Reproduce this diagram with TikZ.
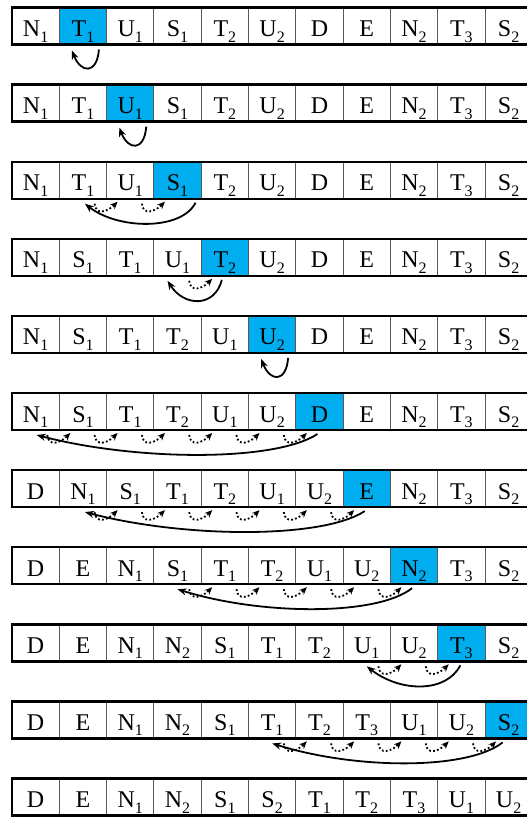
\documentclass[tikz,border=0pt]{standalone}
\usepackage{fontspec}
\setmainfont{Liberation Serif}
\usetikzlibrary{arrows.meta}
\definecolor{hl}{RGB}{0,174,239}
\newcommand\mysub[1]{\raisebox{-5.5pt}{\fontsize{16}{16}\selectfont #1}}
\newcommand\arrayrow[3]{%
  \pgfmathsetmacro\topy{-(7.5+77.1*#1)}
  \foreach \lab [count=\c from 0] in {#2} {
    \pgfmathsetmacro\cx{12+47.3*(\c+0.5)}
    \ifnum\c=#3\relax\def\fillc{hl}\else\def\fillc{white}\fi
    \node[cell, fill=\fillc] (r#1c\c) at (\cx, \topy-18.5) {\lab};
  }
  \draw[frame] (r#1c0.south west) -- (r#1c0.north west) -- (r#1c10.north east);
  \draw[frame] (r#1c0.south west) -- (r#1c10.south east);
}
\newcommand\staymove[2]{%
  \draw[solidarr] ([xshift=16pt,yshift=-5pt]r#1c#2.south) .. controls +(-2,-25) and +(9,-23) .. ([xshift=-11pt,yshift=-6pt]r#1c#2.south);
}
\newcommand\shiftmove[5]{% row, src, tgt, start offset, tip offset
  \pgfmathsetmacro\L{(#2-#3)*47.3}
  \pgfmathtruncatemacro\kend{#2-1}
  \foreach \k in {#3,...,\kend} {
    \draw[dotarr] ([xshift=-12pt,yshift=-5pt]r#1c\k.south east) .. controls +(1,-12) and +(-10,-10) .. ([xshift=11pt,yshift=-3pt]r#1c\k.south east);
  }
  \draw[solidarr] ([xshift=#4pt,yshift=-4pt]r#1c#2.south) .. controls +({-0.15*\L},-28) and +({0.35*\L},-26) .. ([xshift=#5pt,yshift=-5pt]r#1c#3.south);
}
\begin{document}
\begin{tikzpicture}[x=1pt,y=1pt,
  cell/.style={draw=black!65, line width=0.9pt, minimum width=47.3pt, minimum height=37pt,
    inner sep=0pt, outer sep=0pt, text height=29pt, text depth=8pt,
    font=\fontsize{24}{24}\selectfont},
  frame/.style={line width=2.4pt, line cap=rect},
  solidarr/.style={line width=1.8pt, -{Stealth[length=9pt,width=7pt]}},
  dotarr/.style={line width=1.8pt, dash pattern=on 1.8pt off 2.2pt, -{Stealth[length=7.5pt,width=6.5pt]}}]
\useasboundingbox (0,0) rectangle (527,-817);
\arrayrow{0}{N\mysub1,T\mysub1,U\mysub1,S\mysub1,T\mysub2,U\mysub2,D,E,N\mysub2,T\mysub3,S\mysub2}{1}
\arrayrow{1}{N\mysub1,T\mysub1,U\mysub1,S\mysub1,T\mysub2,U\mysub2,D,E,N\mysub2,T\mysub3,S\mysub2}{2}
\arrayrow{2}{N\mysub1,T\mysub1,U\mysub1,S\mysub1,T\mysub2,U\mysub2,D,E,N\mysub2,T\mysub3,S\mysub2}{3}
\arrayrow{3}{N\mysub1,S\mysub1,T\mysub1,U\mysub1,T\mysub2,U\mysub2,D,E,N\mysub2,T\mysub3,S\mysub2}{4}
\arrayrow{4}{N\mysub1,S\mysub1,T\mysub1,T\mysub2,U\mysub1,U\mysub2,D,E,N\mysub2,T\mysub3,S\mysub2}{5}
\arrayrow{5}{N\mysub1,S\mysub1,T\mysub1,T\mysub2,U\mysub1,U\mysub2,D,E,N\mysub2,T\mysub3,S\mysub2}{6}
\arrayrow{6}{D,N\mysub1,S\mysub1,T\mysub1,T\mysub2,U\mysub1,U\mysub2,E,N\mysub2,T\mysub3,S\mysub2}{7}
\arrayrow{7}{D,E,N\mysub1,S\mysub1,T\mysub1,T\mysub2,U\mysub1,U\mysub2,N\mysub2,T\mysub3,S\mysub2}{8}
\arrayrow{8}{D,E,N\mysub1,N\mysub2,S\mysub1,T\mysub1,T\mysub2,U\mysub1,U\mysub2,T\mysub3,S\mysub2}{9}
\arrayrow{9}{D,E,N\mysub1,N\mysub2,S\mysub1,T\mysub1,T\mysub2,T\mysub3,U\mysub1,U\mysub2,S\mysub2}{10}
\arrayrow{10}{D,E,N\mysub1,N\mysub2,S\mysub1,S\mysub2,T\mysub1,T\mysub2,T\mysub3,U\mysub1,U\mysub2}{-1}
\staymove{0}{1}
\staymove{1}{2}
\shiftmove{2}{3}{1}{18}{2}
\shiftmove{3}{4}{3}{-3}{-10}
\staymove{4}{5}
\shiftmove{5}{6}{0}{-2}{1}
\shiftmove{6}{7}{1}{-2}{2}
\shiftmove{7}{8}{3}{-2}{0}
\shiftmove{8}{9}{7}{-1}{0}
\shiftmove{9}{10}{5}{-6}{0}
\end{tikzpicture}
\end{document}
